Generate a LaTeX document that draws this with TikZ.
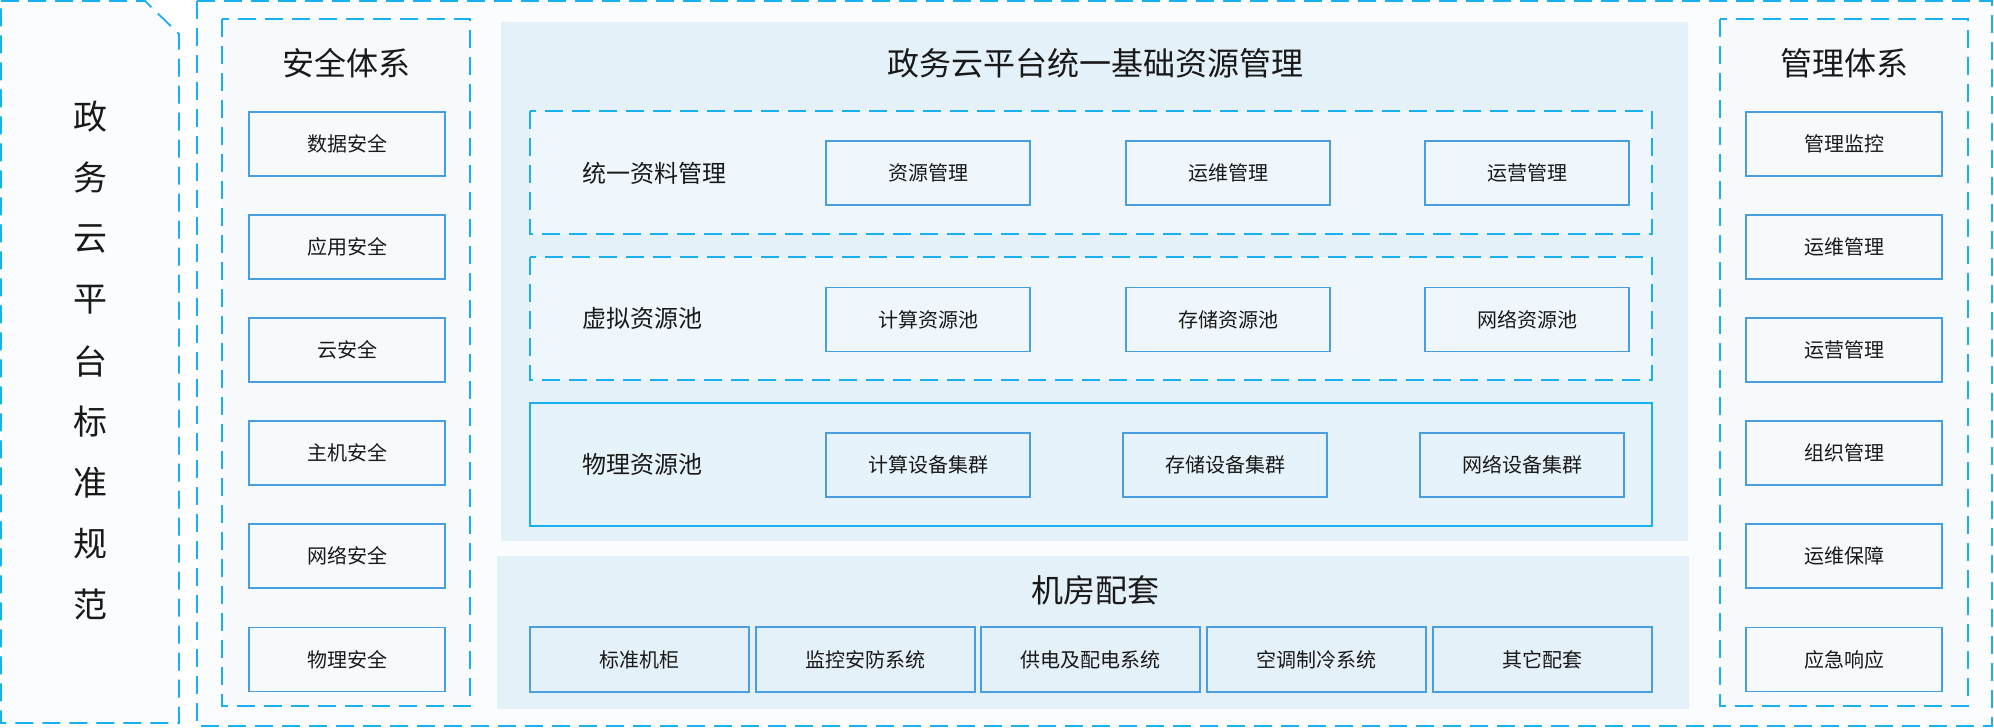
\documentclass[tikz,border=0pt]{standalone}
\usepackage{fontspec}
\setmainfont{Noto Sans CJK SC}
\definecolor{dashc}{RGB}{24,176,238}
\definecolor{itemc}{RGB}{72,158,222}
\definecolor{panelc}{RGB}{228,241,249}
\definecolor{rowc}{RGB}{240,247,252}
\definecolor{row3c}{RGB}{230,243,250}
\definecolor{bgc}{RGB}{250,252,253}
\definecolor{sidec}{RGB}{246,250,252}
\definecolor{txtc}{RGB}{25,25,25}
\tikzset{
  dashbox/.style={draw=dashc, line width=1.8pt, dash pattern=on 18pt off 9pt},
  item/.style={draw=itemc, line width=1.8pt, rectangle, inner sep=0pt, text=txtc, font=\fontsize{20}{24}\selectfont},
  sideitem/.style={item, minimum width=196pt, minimum height=64pt},
  ritem/.style={item, minimum width=204pt, minimum height=64pt},
  mitem/.style={item, minimum width=219pt, minimum height=65pt},
  ttl/.style={text=txtc, font=\fontsize{32}{36}\selectfont, inner sep=0pt},
  rowlbl/.style={text=txtc, font=\fontsize{24}{28}\selectfont, inner sep=0pt, anchor=west},
  vchar/.style={text=txtc, font=\fontsize{34}{38}\selectfont, inner sep=0pt}
}
\begin{document}
\begin{tikzpicture}[x=1pt,y=-1pt]
\useasboundingbox (0,0) rectangle (1994,728);
\fill[white] (0,0) rectangle (1994,728);
% left standard box
\filldraw[fill=bgc, dashbox] (1,1) -- (145,1) -- (179,34) -- (179,723) -- (1,723) -- cycle;
\foreach \c [count=\i from 0] in {政,务,云,平,台,标,准,规,范}
  \node[vchar] (v\i) at (90,{117+61*\i}) {\c};
% outer box
\filldraw[fill=bgc, dashbox] (197,1) rectangle (1992,726);
% security box
\filldraw[fill=sidec, dashbox] (222,19) rectangle (470,706);
\node[ttl] (secT) at (346,63) {安全体系};
\node[sideitem] (s1) at (347,144) {数据安全};
\node[sideitem] (s2) at (347,247) {应用安全};
\node[sideitem] (s3) at (347,350) {云安全};
\node[sideitem] (s4) at (347,453) {主机安全};
\node[sideitem] (s5) at (347,556) {网络安全};
\node[sideitem] (s6) at (347,659.5) {物理安全};
% management box
\filldraw[fill=sidec, dashbox] (1720,19) rectangle (1968,706);
\node[ttl] (mgT) at (1844,63) {管理体系};
\node[sideitem] (m1) at (1844,144) {管理监控};
\node[sideitem] (m2) at (1844,247) {运维管理};
\node[sideitem] (m3) at (1844,350) {运营管理};
\node[sideitem] (m4) at (1844,453) {组织管理};
\node[sideitem] (m5) at (1844,556) {运维保障};
\node[sideitem] (m6) at (1844,659.5) {应急响应};
% main panel
\fill[panelc] (501,22) rectangle (1688,541);
\node[ttl] (mainT) at (1095,63) {政务云平台统一基础资源管理};
\filldraw[fill=rowc, dashbox] (530,111) rectangle (1652,234);
\filldraw[fill=rowc, dashbox] (530,257) rectangle (1652,380);
\filldraw[fill=row3c, draw=dashc, line width=1.8pt] (530,403) rectangle (1652,526);
\node[rowlbl] (r1) at (582,173) {统一资料管理};
\node[rowlbl] (r2) at (582,318) {虚拟资源池};
\node[rowlbl] (r3) at (582,464) {物理资源池};
\node[ritem] (a1) at (928,173) {资源管理};
\node[ritem] (a2) at (1228,173) {运维管理};
\node[ritem] (a3) at (1527,173) {运营管理};
\node[ritem] (b1) at (928,319.5) {计算资源池};
\node[ritem] (b2) at (1228,319.5) {存储资源池};
\node[ritem] (b3) at (1527,319.5) {网络资源池};
\node[ritem] (c1) at (928,465) {计算设备集群};
\node[ritem] (c2) at (1225,465) {存储设备集群};
\node[ritem] (c3) at (1522,465) {网络设备集群};
% machine room panel
\fill[panelc] (497,556) rectangle (1689,709);
\node[ttl] (roomT) at (1095,590) {机房配套};
\node[mitem] (d1) at (639.5,659.5) {标准机柜};
\node[mitem] (d2) at (865.5,659.5) {监控安防系统};
\node[mitem] (d3) at (1090.5,659.5) {供电及配电系统};
\node[mitem] (d4) at (1316.5,659.5) {空调制冷系统};
\node[mitem] (d5) at (1542.5,659.5) {其它配套};
\end{tikzpicture}
\end{document}
